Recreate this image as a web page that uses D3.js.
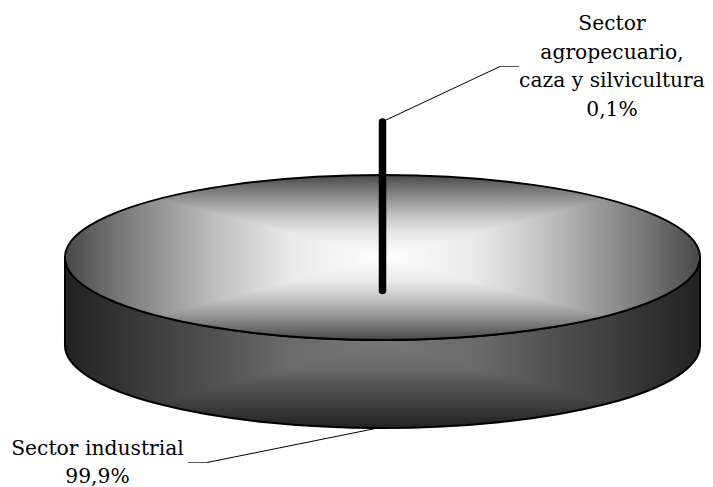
<!DOCTYPE html>
<html>
<head>
<meta charset="utf-8">
<style>
	html, body { margin: 0; padding: 0; background: #fff; }
	svg { display: block; }
	text { font-family: "DejaVu Serif", serif; font-size: 20.3px; fill: #000; }
</style>
<script src="https://cdn.jsdelivr.net/npm/d3@7"></script>
</head>
<body>
<div class="vis"></div>
<script>
'use strict';

var sectors = ['Sector agropecuario, caza y silvicultura', 'Sector industrial'];
var shares = [0.1, 99.9];
var labelLines = [['Sector', 'agropecuario,', 'caza y silvicultura', '0,1%'], ['Sector industrial', '99,9%']];
var topStops = ['#484848', '#767676', '#c0c0c0', '#e8e8e8', '#ffffff'];
var sideStops = ['#222222', '#333333', '#525252', '#6a6a6a', '#777777'];
var stopOffsets = [0, 0.17, 0.48, 0.7, 1];

(function ( window, document, undefined ) {

	var width = 713;
	var height = 487;

	var cx = 382.5;
	var cy = 257.5;
	var rx = 317.5;
	var ry = 82.5;
	var depth = 88;

	var svg = d3.select('.vis')
		.append('svg')
			.attr('width', width)
			.attr('height', height);

	var defs = svg.append('defs');

	// the thin slice is centred on the top of the disc
	var sliverHalf = Math.PI * shares[0] / 100;
	var slices = d3.pie()
		.sort( null )
		.startAngle( -sliverHalf )
		.endAngle( 2 * Math.PI - sliverHalf )( shares );

	var arc = d3.arc()
		.innerRadius( 0 )
		.outerRadius( rx );

	var discTransform = 'translate(' + cx + ',' + cy + ') scale(1,' + (ry / rx) + ')';

	var wallPath = 'M' + (cx - rx) + ',' + cy +
		'A' + rx + ',' + ry + ' 0 0 0 ' + (cx + rx) + ',' + cy +
		'V' + (cy + depth) +
		'A' + rx + ',' + ry + ' 0 0 1 ' + (cx - rx) + ',' + (cy + depth) + 'Z';

	// wall first, disc on top of it
	boxGradient( 'wall', { x: cx - rx, y: cy, w: 2 * rx, h: ry + depth }, sideStops, wallPath, null );
	svg.append('path')
		.attr('d', wallPath)
		.attr('fill', 'none')
		.attr('stroke', '#000')
		.attr('stroke-width', 2);

	boxGradient( 'disc', { x: cx - rx, y: cy - ry, w: 2 * rx, h: 2 * ry }, topStops, arc( slices[1] ), discTransform );
	svg.append('path')
		.attr('d', arc( slices[1] ))
		.attr('transform', discTransform)
		.attr('fill', 'none')
		.attr('stroke', '#000')
		.attr('stroke-width', 2)
		.attr('vector-effect', 'non-scaling-stroke');

	// the thin slice, pulled out of the disc
	var sliverX = cx + rx * Math.sin( (slices[0].startAngle + slices[0].endAngle) / 2 );
	svg.append('line')
		.attr('x1', sliverX)
		.attr('x2', sliverX)
		.attr('y1', 122)
		.attr('y2', 290.5)
		.attr('stroke', '#000')
		.attr('stroke-width', 7.5)
		.attr('stroke-linecap', 'round');

	// leader lines
	leader( [[385, 120.5], [500, 66.5]], [[500, 66.5], [519, 66.5]] );
	leader( [[378, 428], [207, 462.5]], [[207, 462.5], [188, 462.5]] );

	// labels
	label( sectors[0], labelLines[0], 612, 30, 28.6 );
	label( sectors[1], labelLines[1], 97.5, 455, 28.3 );

	/**
	 * Fills a shape with a gradient that runs from the centre of a box to its sides,
	 * split along the diagonals of the box like a rectangular path gradient.
	 *
	 * @param {string} id prefix of the defs
	 * @param {object} box x, y, w, h of the gradient box
	 * @param {array} stops colours from the edge to the centre
	 * @param {string} shape path data of the filled shape
	 * @param {string} transform transform of the shape or null
	 */
	function boxGradient( id, box, stops, shape, transform ) {
		var midX = box.x + box.w / 2;
		var midY = box.y + box.h / 2;

		linear( id + '-h', box.x, 0, box.x + box.w, 0 );
		linear( id + '-v', 0, box.y, 0, box.y + box.h );

		var clip = defs.append('clipPath').attr('id', id + '-clip').append('path').attr('d', shape);
		if ( transform ) clip.attr('transform', transform);

		var g = svg.append('g').attr('clip-path', 'url(#' + id + '-clip)');

		g.append('rect')
			.attr('x', box.x)
			.attr('y', box.y)
			.attr('width', box.w)
			.attr('height', box.h)
			.attr('fill', 'url(#' + id + '-h)');

		g.append('path')
			.attr('d', 'M' + box.x + ',' + box.y + 'L' + midX + ',' + midY + 'L' + (box.x + box.w) + ',' + box.y + 'Z' +
				'M' + box.x + ',' + (box.y + box.h) + 'L' + midX + ',' + midY + 'L' + (box.x + box.w) + ',' + (box.y + box.h) + 'Z')
			.attr('fill', 'url(#' + id + '-v)');

		function linear( name, x1, y1, x2, y2 ) {
			var gradient = defs.append('linearGradient')
				.attr('id', name)
				.attr('gradientUnits', 'userSpaceOnUse')
				.attr('x1', x1)
				.attr('y1', y1)
				.attr('x2', x2)
				.attr('y2', y2);

			// mirrored around the centre of the box
			stopOffsets.forEach(function(o, i) {
				gradient.append('stop').attr('offset', o / 2).attr('stop-color', stops[i]);
			});
			stopOffsets.slice().reverse().forEach(function(o, i) {
				gradient.append('stop').attr('offset', 1 - o / 2).attr('stop-color', stops[stops.length - 1 - i]);
			});
		}
	}

	/**
	 * Draws a leader line: the slanted black part and the short gray part next to the label.
	 */
	function leader( slanted, flat ) {
		var line = d3.line();
		svg.append('path').attr('d', line( slanted )).attr('fill', 'none').attr('stroke', '#000').attr('stroke-width', 1);
		svg.append('path').attr('d', line( flat )).attr('fill', 'none').attr('stroke', '#555').attr('stroke-width', 1);
	}

	/**
	 * Writes a centred multi-line label.
	 */
	function label( name, lines, x, y, lineHeight ) {
		svg.append('g')
			.attr('class', 'label')
			.attr('data-name', name)
			.selectAll('text')
			.data( lines )
			.enter()
			.append('text')
				.attr('x', x)
				.attr('y', function(d, i) { return y + i * lineHeight; })
				.attr('text-anchor', 'middle')
				.text(function(d) { return d; });
	}

})( this, document );
</script>
</body>
</html>
